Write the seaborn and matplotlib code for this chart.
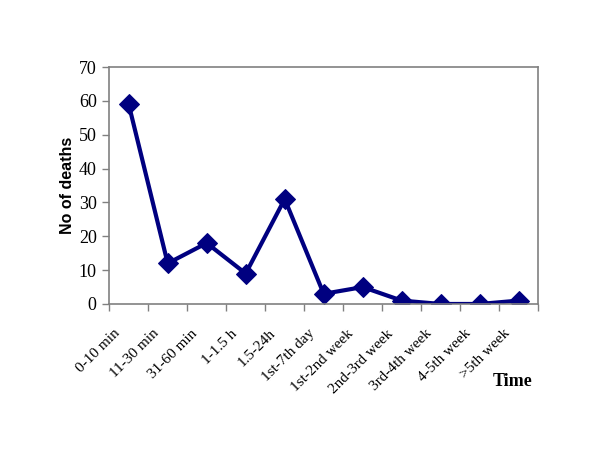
# Deaths over time since injury - line chart
import pandas as pd
import matplotlib
matplotlib.use('Agg')
import matplotlib.pyplot as plt
import matplotlib.transforms as mtransforms
from matplotlib.ticker import FixedLocator
import seaborn as sns

# Data
periods = ['0-10 min', '11-30 min', '31-60 min', '1-1.5 h', '1.5-24h', '1st-7th day',
           '1st-2nd week', '2nd-3rd week', '3rd-4th week', '4-5th week', '>5th week']
deaths = [59, 12, 18, 9, 31, 3, 5, 1, 0, 0, 1]
y_ticks = [0, 10, 20, 30, 40, 50, 60, 70]

df = pd.DataFrame({'pos': range(len(periods)), 'deaths': deaths})

sns.set_style('white')
plt.rcParams['text.color'] = 'black'
plt.rcParams['axes.labelcolor'] = 'black'

fig = plt.figure(figsize=(6, 4.61), dpi=100)
ax = fig.add_axes([0.182, 0.3406, 0.715, 0.514])

sns.lineplot(data=df, x='pos', y='deaths', ax=ax, color='#000080', linewidth=3,
             marker='D', markersize=10, markeredgecolor='#000080', sort=False)

ax.set_xlim(-0.5, len(periods) - 0.5)
ax.set_ylim(0, 70)
ax.set_yticks(y_ticks)
ax.set_yticklabels([str(v) for v in y_ticks], fontfamily='Liberation Serif', fontsize=13,
                   color='black')

# category labels at centres, tick marks between categories
ax.set_xticks(range(len(periods)))
ax.set_xticklabels(periods, rotation=45, ha='right', va='center', rotation_mode='anchor',
                   fontfamily='Liberation Serif', fontsize=11, color='black')
ax.tick_params(axis='x', which='major', length=0, pad=4)
ax.xaxis.set_minor_locator(FixedLocator([i - 0.5 for i in range(len(periods) + 1)]))
ax.tick_params(axis='x', which='minor', length=5, width=1, color='#808080', bottom=True)
ax.tick_params(axis='y', length=5, width=1, color='#808080', left=True, pad=4)

# nudge the rotated labels down-left like the original
shift = mtransforms.ScaledTranslation(-0.11, -0.22, fig.dpi_scale_trans)
for lbl in ax.get_xticklabels():
    lbl.set_transform(lbl.get_transform() + shift)

for s in ax.spines.values():
    s.set_color('#808080')
    s.set_linewidth(1.2)

ax.set_xlabel('')
ax.set_ylabel('No of deaths', fontfamily='Liberation Sans', fontweight='bold', fontsize=11.5,
              color='black', labelpad=3)
fig.text(0.855, 0.173, 'Time', fontfamily='Liberation Serif', fontweight='bold',
         fontsize=13, ha='center', va='center', color='black')

fig.savefig('out.png', dpi=100)
